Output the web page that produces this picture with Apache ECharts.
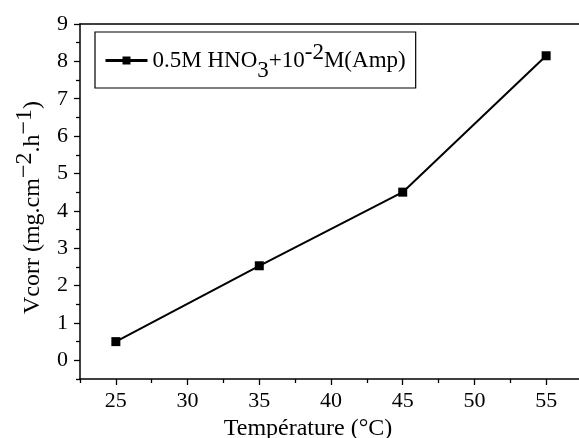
<!DOCTYPE html>
<html>
<head>
<meta charset="utf-8">
<script src="https://cdn.jsdelivr.net/npm/echarts@6/dist/echarts.min.js"></script>
<style>
html,body{margin:0;padding:0;background:#fff;}
#c{width:579px;height:438px;}
</style>
</head>
<body>
<div id="c"></div>
<script>
const temperatures = [25, 35, 45, 55];
const vcorr = [0.5, 2.53, 4.5, 8.15];
const xTicks = [25, 30, 35, 40, 45, 50, 55];
const xMinorTicks = [22.5, 27.5, 32.5, 37.5, 42.5, 47.5, 52.5, 57.5];
const yTicks = [0, 1, 2, 3, 4, 5, 6, 7, 8, 9];
const yMinorTicks = [-0.5, 0.5, 1.5, 2.5, 3.5, 4.5, 5.5, 6.5, 7.5, 8.5];
const seriesName = '0.5M HNO3+10-2M(Amp)';

const FONT = '"Liberation Serif", "Times New Roman", serif';
const chart = echarts.init(document.getElementById('c'), null, {renderer: 'canvas'});

const axisLineStyle = {color: '#000', width: 1.5};
const LF = 23;
const NF = 24;
const option = {
  backgroundColor: '#fff',
  animation: false,
  grid: {left: 80, top: 24, right: -3, bottom: 59, containLabel: false, outerBoundsMode: 'none'},
  legend: {
    left: 95, top: 32,
    padding: [9, 10, 6, 9],
    borderColor: '#000', borderWidth: 1.2,
    itemWidth: 42, itemHeight: 10,
    lineStyle: {width: 3},
    formatter: function () {
      return '{n|0.5M HNO}{sub|3}{n|+10}{sup|-2}{n|M(Amp)}';
    },
    textStyle: {
      fontFamily: FONT, color: '#000', fontSize: LF,
      rich: {
        n: {fontFamily: FONT, fontSize: LF, color: '#000'},
        sub: {fontFamily: FONT, fontSize: LF, color: '#000', padding: [20, 0, 0, 0]},
        sup: {fontFamily: FONT, fontSize: LF, color: '#000', padding: [0, 0, 16, 0]}
      }
    },
    data: [seriesName]
  },
  xAxis: [
    {
      type: 'value', position: 'bottom', min: 22.5, max: 57.5,
      splitLine: {show: false},
      axisLine: {show: true, onZero: false, lineStyle: axisLineStyle},
      axisTick: {show: true, customValues: xTicks, length: 6, lineStyle: {color: '#000', width: 1.3}},
      axisLabel: {customValues: xTicks, fontFamily: FONT, fontSize: 22, color: '#000', margin: 11},
      name: 'Température (°C)', nameLocation: 'middle', nameGap: 33,
      nameTextStyle: {fontFamily: FONT, fontSize: NF, color: '#000', padding: [0, 46, 0, 0]}
    },
    {
      type: 'value', position: 'bottom', min: 22.5, max: 57.5,
      splitLine: {show: false},
      axisLine: {show: false, onZero: false},
      axisTick: {show: true, customValues: xMinorTicks, length: 4, lineStyle: {color: '#000', width: 1.3}},
      axisLabel: {show: false}
    },
    {
      type: 'value', position: 'top', min: 22.5, max: 57.5,
      splitLine: {show: false},
      axisLine: {show: true, onZero: false, lineStyle: axisLineStyle},
      axisTick: {show: false},
      axisLabel: {show: false}
    }
  ],
  yAxis: [
    {
      type: 'value', position: 'left', min: -0.5, max: 9,
      splitLine: {show: false},
      axisLine: {show: true, onZero: false, lineStyle: axisLineStyle},
      axisTick: {show: true, customValues: yTicks, length: 6, lineStyle: {color: '#000', width: 1.3}},
      axisLabel: {customValues: yTicks, fontFamily: FONT, fontSize: 22, color: '#000', margin: 12},
      name: '{n|Vcorr (mg.cm}{sup|−2}{n|.h}{sup|−1}{n|)}',
      nameLocation: 'middle', nameGap: 27, nameRotate: 90,
      nameTextStyle: {
        fontFamily: FONT, fontSize: NF, color: '#000',
        padding: [0, 12, 0, 0],
        rich: {
          n: {fontFamily: FONT, fontSize: NF, color: '#000'},
          sup: {fontFamily: FONT, fontSize: NF, color: '#000', padding: [0, 0, 16, 0]}
        }
      }
    },
    {
      type: 'value', position: 'left', min: -0.5, max: 9,
      splitLine: {show: false},
      axisLine: {show: false, onZero: false},
      axisTick: {show: true, customValues: yMinorTicks, length: 4, lineStyle: {color: '#000', width: 1.3}},
      axisLabel: {show: false}
    }
  ],
  series: [{
    name: seriesName,
    type: 'line',
    xAxisIndex: 0, yAxisIndex: 0,
    data: temperatures.map((t, i) => [t, vcorr[i]]),
    symbol: 'rect', symbolSize: 9,
    itemStyle: {color: '#000'},
    lineStyle: {color: '#000', width: 2},
    z: 5
  }]
};
chart.setOption(option);
</script>
</body>
</html>
